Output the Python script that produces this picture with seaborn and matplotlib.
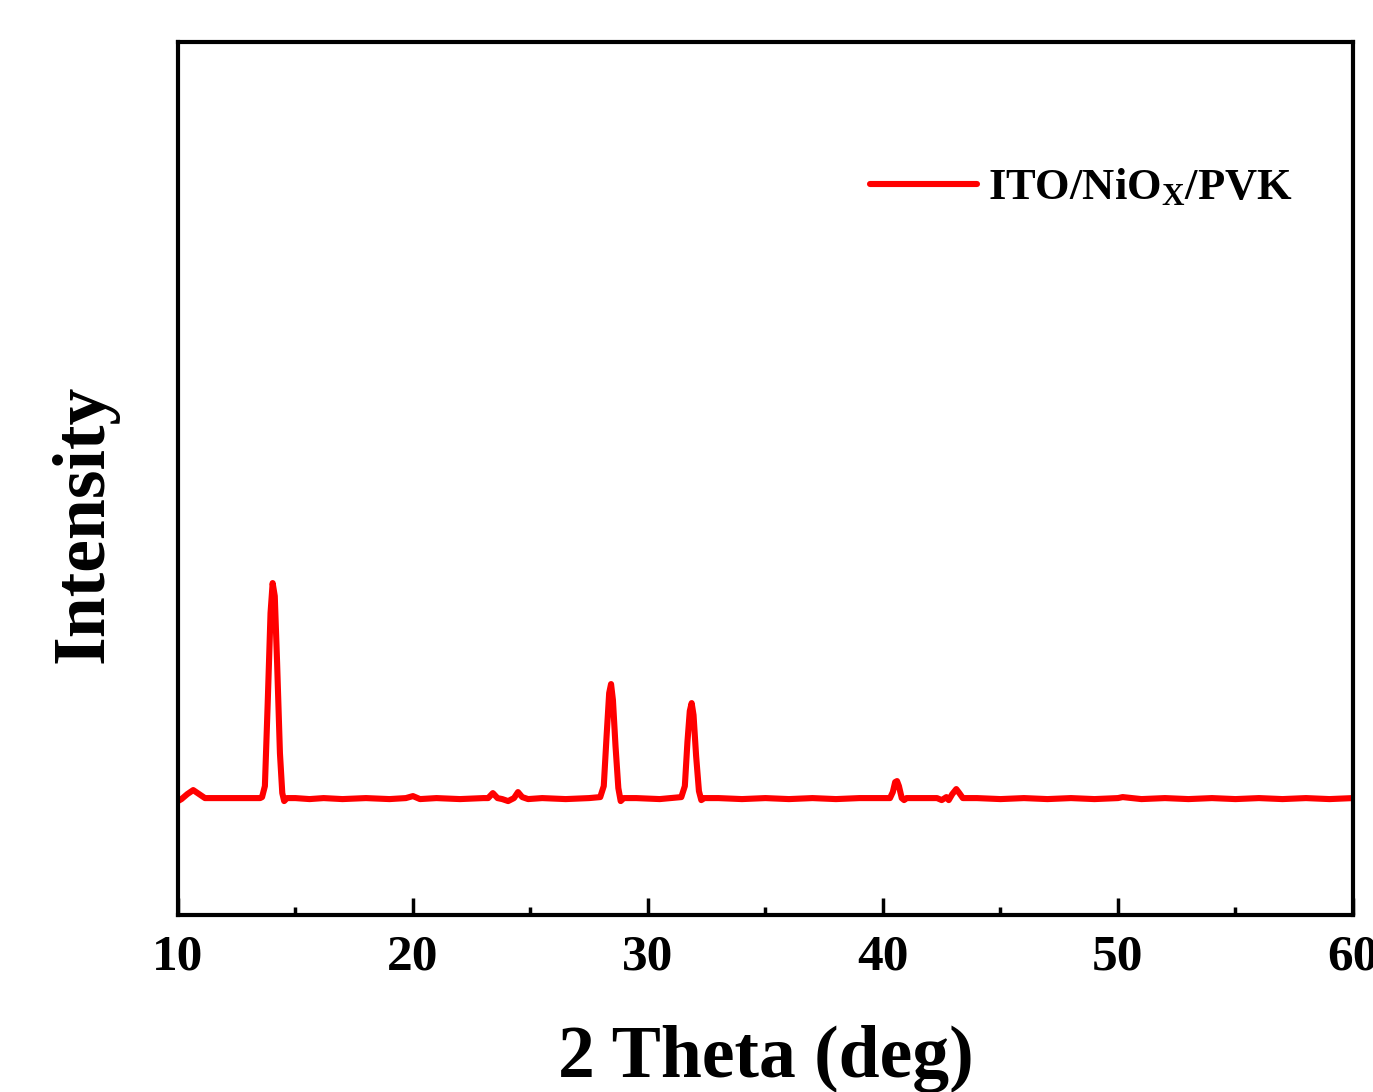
import matplotlib
matplotlib.use("Agg")
import matplotlib.pyplot as plt
import seaborn as sns
from matplotlib.ticker import MultipleLocator

# ---- data (2θ in degrees, intensity in a.u.) ----
two_theta = [
    10.0, 10.15, 10.4, 10.65, 10.9, 11.15, 11.5, 12.5, 13.5,
    13.58, 13.70, 13.82, 13.94, 14.03, 14.12, 14.22, 14.34, 14.44, 14.52, 14.64,
    15.0, 15.6, 16.2, 17.0, 18.0, 19.0, 19.7, 20.0, 20.3, 21.0, 22.0, 23.0,
    23.2, 23.4, 23.6, 23.8, 24.05, 24.3, 24.47, 24.65, 24.9, 25.5, 26.5, 27.5,
    27.97, 28.12, 28.24, 28.35, 28.43, 28.51, 28.62, 28.74, 28.84, 28.97,
    29.5, 30.5,
    31.42, 31.57, 31.68, 31.78, 31.86, 31.94, 32.05, 32.17, 32.27, 32.40,
    33.0, 34.0, 35.0, 36.0, 37.0, 38.0, 39.0, 40.0,
    40.30, 40.42, 40.52, 40.60, 40.68, 40.80, 40.90, 41.0, 41.6,
    42.3, 42.5, 42.7, 42.8, 42.95, 43.12, 43.25, 43.4,
    44.0, 45.0, 46.0, 47.0, 48.0, 49.0, 50.0, 50.2, 51.0, 52.0, 53.0, 54.0,
    55.0, 56.0, 57.0, 58.0, 59.0, 60.0,
]
intensity = [
    197, 199, 204, 208, 204, 200, 200, 200, 200,
    201, 212, 295, 385, 415, 402, 335, 245, 205, 197, 200,
    200, 199, 200, 199, 200, 199, 200, 202, 199, 200, 199, 200,
    200, 205, 200, 199, 197, 200, 206, 201, 199, 200, 199, 200,
    201, 212, 262, 305, 314, 298, 252, 210, 197, 200,
    200, 199,
    201, 212, 256, 287, 295, 283, 242, 207, 198, 200,
    200, 199, 200, 199, 200, 199, 200, 200,
    200, 206, 216, 217, 212, 200, 198, 200, 200,
    200, 198, 201, 198, 204, 209, 205, 200,
    200, 199, 200, 199, 200, 199, 200, 201, 199, 200, 199, 200,
    199, 200, 199, 200, 199, 200,
]
series_label = r"ITO/NiO$_{\mathbf{X}}$/PVK"
x_label = "2 Theta (deg)"
y_label = "Intensity"
x_ticks = [10, 20, 30, 40, 50, 60]

sns.set_theme(style="ticks")
plt.rcParams["font.family"] = ["Liberation Serif", "DejaVu Serif"]
plt.rcParams["font.weight"] = "bold"
plt.rcParams["text.color"] = "black"
plt.rcParams["axes.labelcolor"] = "black"
plt.rcParams["xtick.color"] = "black"
plt.rcParams["ytick.color"] = "black"
plt.rcParams["mathtext.fontset"] = "custom"
plt.rcParams["mathtext.rm"] = "Liberation Serif:bold"
plt.rcParams["mathtext.bf"] = "Liberation Serif:bold"
plt.rcParams["mathtext.it"] = "Liberation Serif:bold"

fig = plt.figure(figsize=(13.73, 10.92), dpi=100)
ax = fig.add_axes([0.1296, 0.162, 0.8558, 0.7995])

sns.lineplot(x=two_theta, y=intensity, ax=ax, color="#ff0000", lw=4.4,
             sort=False, estimator=None, label=series_label)
for ln in ax.get_lines():
    ln.set_solid_joinstyle("round")
    ln.set_solid_capstyle("round")

ax.set_xlim(10, 60)
ax.set_ylim(83, 956)
ax.set_xticks(x_ticks)
ax.xaxis.set_minor_locator(MultipleLocator(5))
ax.set_yticks([])

for sp in ax.spines.values():
    sp.set_visible(True)
    sp.set_linewidth(3.0)
    sp.set_color("black")

ax.tick_params(axis="x", which="major", direction="in", length=12, width=2.5,
               labelsize=37, pad=14, top=False, color="black", labelcolor="black")
ax.tick_params(axis="x", which="minor", direction="in", length=6, width=2.5,
               top=False, color="black")
for t in ax.get_xticklabels():
    t.set_fontweight("bold")

ax.set_xlabel(x_label, fontsize=53, fontweight="bold", color="black")
ax.set_ylabel(y_label, fontsize=53, fontweight="bold", color="black")
ax.xaxis.set_label_coords(0.5, -0.126)
ax.yaxis.set_label_coords(-0.051, 0.448)

leg = ax.legend(loc="center left", bbox_to_anchor=(0.589, 0.833), frameon=False,
                fontsize=32, handlelength=2.4, handletextpad=0.25,
                borderpad=0, borderaxespad=0)
for t in leg.get_texts():
    t.set_fontweight("bold")
    t.set_color("black")
for h in leg.get_lines():
    h.set_linewidth(4.4)

fig.savefig("out.png", dpi=100)
